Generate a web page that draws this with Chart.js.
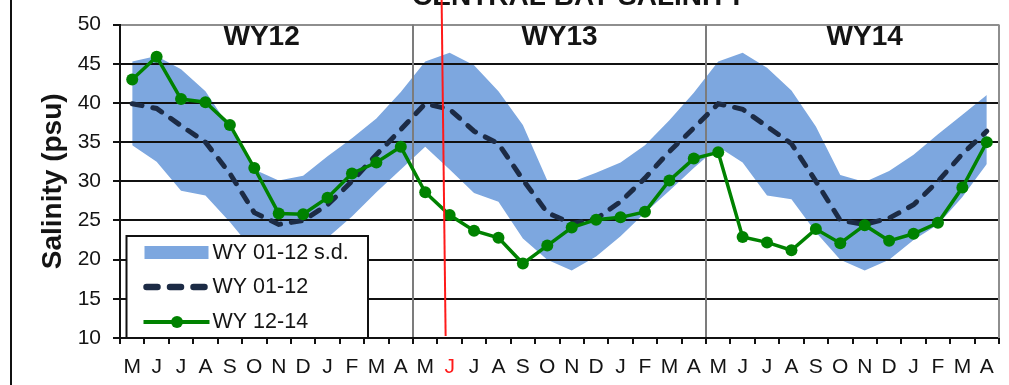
<!DOCTYPE html>
<html>
<head>
<meta charset="utf-8">
<script src="https://cdn.jsdelivr.net/npm/chart.js@4.4.1/dist/chart.umd.min.js"></script>
<style>
  html, body { margin: 0; padding: 0; background: #fff; }
  #wrap { position: relative; width: 1009px; height: 385px; overflow: hidden; }
  #wrap canvas { position: absolute; left: 0; top: 0; }
  #frame { position: absolute; left: 10px; top: 0; width: 2px; height: 385px; background: #111; }
</style>
</head>
<body>
<div id="wrap">
  <canvas id="salinity" width="1009" height="385"></canvas>
  <div id="frame"></div>
</div>
<script>
// Monthly categories, water years 2012-2014 (May through April)
const months = [
  'M','J','J','A','S','O','N','D','J','F','M','A',
  'M','J','J','A','S','O','N','D','J','F','M','A',
  'M','J','J','A','S','O','N','D','J','F','M','A'
];

// Observed salinity, WY 12-14 (psu)
const observed = [
  43.0, 45.9, 40.5, 40.1, 37.2, 31.7, 25.9, 25.8, 27.9, 31.0, 32.4, 34.4,
  28.6, 25.7, 23.7, 22.8, 19.5, 21.8, 24.1, 25.1, 25.4, 26.1, 30.1, 32.9,
  33.7, 22.9, 22.2, 21.2, 23.9, 22.1, 24.4, 22.4, 23.3, 24.7, 29.2, 35.0
];

// Long-term monthly mean, WY 01-12 (psu)
const longTermMean = [
  39.9, 39.3, 37.1, 35.0, 31.0, 26.0, 24.5, 25.0, 27.0, 30.0, 33.4, 36.6,
  39.9, 39.2, 36.4, 34.8, 30.2, 26.0, 24.6, 25.2, 27.4, 30.4, 33.8, 36.8,
  39.9, 39.2, 37.0, 34.8, 30.0, 25.0, 24.5, 25.3, 27.0, 30.0, 33.5, 36.4
];

// Mean + / - one standard deviation, WY 01-12 (psu)
const sdUpper = [
  45.3, 46.0, 44.3, 41.5, 36.8, 31.5, 30.1, 30.7, 33.2, 35.5, 38.0, 41.4,
  45.3, 46.4, 44.8, 41.5, 37.2, 30.1, 29.9, 31.1, 32.4, 34.6, 37.8, 41.3,
  45.3, 46.4, 44.5, 41.6, 37.0, 30.8, 29.9, 31.3, 33.4, 36.0, 38.5, 41.0
];
const sdLower = [
  34.6, 32.5, 28.8, 28.2, 24.8, 21.0, 19.0, 20.3, 22.8, 25.5, 28.6, 31.5,
  34.4, 31.5, 28.5, 27.4, 22.7, 20.0, 18.6, 20.4, 23.0, 26.0, 28.8, 31.7,
  34.4, 32.4, 28.2, 27.7, 23.5, 20.0, 18.6, 20.0, 22.5, 24.5, 28.0, 32.2
];

const yTickValues = [10, 15, 20, 25, 30, 35, 40, 45, 50];
const yearLabels = ['WY12', 'WY13', 'WY14'];
const yearLabelAt = [5.3, 17.5, 30];      // category positions of the year captions
const yearStarts = [12, 24];              // category index where each new water year begins
const highlightMonth = 13;                // June of WY13
const chartTitle = 'CENTRAL BAY SALINITY';
const yAxisTitle = 'Salinity (psu)';

const FONT = "'Liberation Sans', Arial, Helvetica, sans-serif";
const INK = '#141414';
const BAND = '#7da7df';
const MEAN = '#1c2b45';
const GREEN = '#008200';
const FRAME_GRAY = '#8e8e8e';

Chart.defaults.font.family = FONT;
Chart.defaults.color = INK;

// Grid lines drawn again on top of the s.d. band
const gridOverBand = {
  id: 'gridOverBand',
  afterDatasetDraw(chart, args) {
    if (args.index !== 2) return;
    const area = chart.chartArea;
    chart.scales.y.drawGrid(area);
    chart.scales.x.drawGrid(area);
  }
};

// Boxed legend inside the lower-left of the plot
const insetLegend = {
  id: 'insetLegend',
  afterDatasetsDraw(chart) {
    const { ctx, chartArea: a } = chart;
    const ds = chart.data.datasets;
    const bx = a.left + 6.5, by = 236, bw = 241.5, bh = a.bottom - by;
    ctx.save();
    ctx.fillStyle = '#fff';
    ctx.fillRect(bx, by, bw, bh);
    ctx.lineWidth = 2;
    ctx.strokeStyle = '#111';
    ctx.strokeRect(bx, by, bw, bh);

    const sx0 = bx + 17, sx1 = bx + 82, tx = bx + 86;
    const rows = [by + 17, by + 51, by + 86];
    ctx.font = '21.5px ' + FONT;
    ctx.textBaseline = 'middle';
    ctx.textAlign = 'left';

    // s.d. band swatch
    ctx.fillStyle = ds[2].backgroundColor;
    ctx.fillRect(sx0 + 1, rows[0] - 7, sx1 - sx0 - 1, 13);

    // dashed mean swatch
    ctx.strokeStyle = ds[1].borderColor;
    ctx.lineWidth = 6.5;
    ctx.lineCap = 'round';
    ctx.setLineDash([11, 12.5]);
    ctx.beginPath();
    ctx.moveTo(sx0 + 3, rows[1]);
    ctx.lineTo(sx1 - 2, rows[1]);
    ctx.stroke();
    ctx.setLineDash([]);

    // observed line with marker
    ctx.strokeStyle = ds[0].borderColor;
    ctx.lineWidth = 4;
    ctx.lineCap = 'butt';
    ctx.beginPath();
    ctx.moveTo(sx0, rows[2]);
    ctx.lineTo(sx1 + 1, rows[2]);
    ctx.stroke();
    ctx.fillStyle = ds[0].pointBackgroundColor;
    ctx.beginPath();
    ctx.arc((sx0 + sx1) / 2 + 1, rows[2], 6, 0, Math.PI * 2);
    ctx.fill();

    ctx.fillStyle = INK;
    ctx.fillText(ds[2].label, tx, rows[0]);
    ctx.fillText(ds[1].label, tx, rows[1]);
    ctx.fillText(ds[0].label, tx, rows[2]);
    ctx.restore();
  }
};

// Right frame edge, year captions, title and the June marker line
const decorations = {
  id: 'decorations',
  afterDraw(chart) {
    const { ctx, chartArea: a } = chart;
    const xs = chart.scales.x;
    ctx.save();
    ctx.strokeStyle = FRAME_GRAY;
    ctx.lineWidth = 2;
    ctx.beginPath();
    ctx.moveTo(a.right, a.top);
    ctx.lineTo(a.right, a.bottom);
    ctx.stroke();

    ctx.fillStyle = INK;
    ctx.textAlign = 'center';
    ctx.textBaseline = 'middle';
    ctx.font = 'bold 28px ' + FONT;
    yearLabels.forEach((t, i) => {
      ctx.fillText(t, xs.getPixelForValue(yearLabelAt[i]), 37);
    });

    ctx.textBaseline = 'alphabetic';
    ctx.fillText(chartTitle, a.left + (a.right - a.left) * 0.522, 5);

    const mx = xs.getPixelForValue(highlightMonth);
    ctx.strokeStyle = '#ff1a1a';
    ctx.lineWidth = 2;
    ctx.beginPath();
    ctx.moveTo(mx - 8, 0);
    ctx.lineTo(mx - 4, a.bottom - 2);
    ctx.stroke();
    ctx.restore();
  }
};

new Chart(document.getElementById('salinity'), {
  type: 'line',
  data: {
    labels: months,
    datasets: [
      {
        label: 'WY 12-14',
        data: observed,
        borderColor: GREEN,
        backgroundColor: GREEN,
        borderWidth: 3.5,
        pointRadius: 6,
        pointBorderWidth: 0,
        pointBackgroundColor: GREEN,
        fill: false,
        tension: 0
      },
      {
        label: 'WY 01-12',
        data: longTermMean,
        borderColor: MEAN,
        borderWidth: 5,
        borderDash: [10, 11],
        borderCapStyle: 'round',
        pointRadius: 0,
        fill: false,
        tension: 0
      },
      {
        label: 'WY 01-12 s.d.',
        data: sdUpper,
        borderWidth: 0,
        borderColor: 'rgba(0,0,0,0)',
        backgroundColor: BAND,
        pointRadius: 0,
        fill: '+1',
        tension: 0
      },
      {
        label: 'WY 01-12 s.d. (lower)',
        data: sdLower,
        borderWidth: 0,
        borderColor: 'rgba(0,0,0,0)',
        backgroundColor: BAND,
        pointRadius: 0,
        fill: false,
        tension: 0
      }
    ]
  },
  options: {
    responsive: false,
    devicePixelRatio: 1,
    animation: false,
    events: [],
    layout: { padding: { top: 13, right: 10, left: 0, bottom: 0 } },
    plugins: {
      legend: { display: false },
      tooltip: { enabled: false },
      title: { display: false }
    },
    scales: {
      x: {
        offset: true,
        afterFit: (s) => { s.height = 47; },
        grid: {
          offset: true,
          lineWidth: 2,
          color: (c) => (c.type === 'scale' ? 'rgba(0,0,0,0)' :
                         (yearStarts.includes(c.index) ? '#7c7c7c' : 'rgba(0,0,0,0)')),
          tickColor: '#111',
          tickWidth: 2,
          tickLength: 6,
          drawTicks: true
        },
        border: { color: '#111', width: 2 },
        ticks: {
          autoSkip: false,
          maxRotation: 0,
          padding: 11,
          font: { size: 21 },
          color: (c) => (c.index === highlightMonth ? '#ff1a1a' : INK)
        }
      },
      y: {
        min: 10,
        max: 50,
        afterFit: (s) => { s.width = 120; },
        afterBuildTicks: (s) => { s.ticks = yTickValues.map((v) => ({ value: v })); },
        grid: {
          lineWidth: 2,
          color: (c) => (c.tick && c.tick.value === 50 ? FRAME_GRAY : '#111'),
          tickColor: '#111',
          tickLength: 7
        },
        border: { color: '#111', width: 2 },
        ticks: {
          padding: 12,
          font: { size: 21 },
          color: INK
        },
        title: {
          display: true,
          text: yAxisTitle,
          font: { size: 28, weight: 'bold' },
          color: INK,
          padding: { top: 36, bottom: 0 }
        }
      }
    }
  },
  plugins: [gridOverBand, insetLegend, decorations]
});
</script>
</body>
</html>
